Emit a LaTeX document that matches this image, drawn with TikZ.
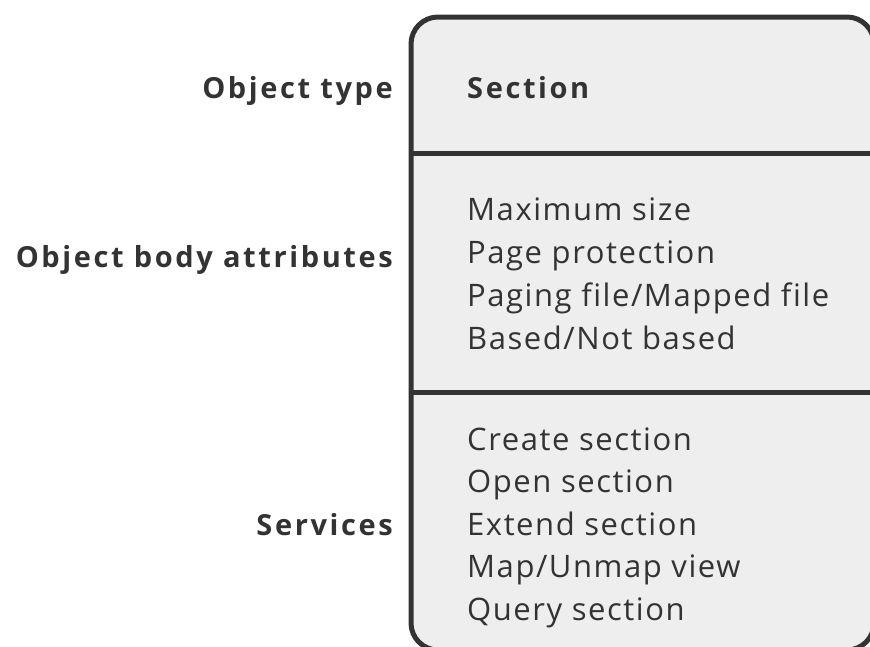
\documentclass[tikz,border=0pt]{standalone}
\usepackage{fontspec}
\setmainfont{Open Sans}[Ligatures=NoCommon,LetterSpace=5]
\newfontfamily\lblfont{Open Sans}[Ligatures=NoCommon,LetterSpace=9]
\definecolor{ink}{HTML}{333333}
\definecolor{panel}{HTML}{EEEEEE}
\begin{document}
\begin{tikzpicture}[x=1pt,y=1pt,
  item/.style={anchor=base west,inner sep=0pt,text=ink,font=\fontsize{31}{31}\selectfont},
  lbl/.style={anchor=base east,inner sep=0pt,text=ink,font=\lblfont\fontsize{29}{29}\selectfont\bfseries},
  rule/.style={draw=ink,line width=5pt}]
\useasboundingbox (0,0) rectangle (870,-646);
\begin{scope}
\clip (0,0) rectangle (870,-646);
\draw[draw=ink,fill=panel,line width=5pt,rounded corners=27pt] (411,-17) rectangle (874,-650);
\coordinate (d1l) at (411,-153);
\coordinate (d1r) at (874,-153);
\coordinate (d2l) at (411,-392);
\coordinate (d2r) at (874,-392);
\draw[rule] (d1l) -- (d1r);
\draw[rule] (d2l) -- (d2r);
\end{scope}
\node[lbl] (ltype) at (393,-98) {Object type};
\node[lbl] (lbody) at (393,-267) {Object body attributes};
\node[lbl] (lserv) at (393,-535) {Services};
\node[item,font=\lblfont\fontsize{29}{29}\selectfont\bfseries] (sec) at (467,-98) {Section};
\node[item] (a1) at (467,-220) {Maximum size};
\node[item] (a2) at (467,-263) {Page protection};
\node[item] (a3) at (467,-306) {Paging file/Mapped file};
\node[item] (a4) at (467,-349) {Based/Not based};
\node[item] (s1) at (467,-450) {Create section};
\node[item] (s2) at (467,-492) {Open section};
\node[item] (s3) at (467,-535) {Extend section};
\node[item] (s4) at (467,-577) {Map/Unmap view};
\node[item] (s5) at (467,-620) {Query section};
\end{tikzpicture}
\end{document}
